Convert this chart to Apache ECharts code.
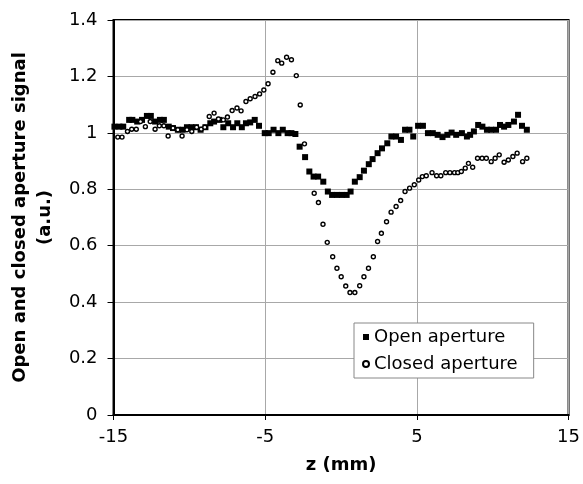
<!DOCTYPE html>
<html lang="en">

<head>
    <meta charset="UTF-8">
    <title>Z-scan open / closed aperture</title>
    <script src="https://cdn.jsdelivr.net/npm/echarts@6/dist/echarts.min.js"></script>
    <style>
        body {
            margin: 0;
            background: #fff;
        }

        #root {
            width: 583px;
            height: 484px;
        }
    </style>
</head>

<body>

    <div id="root"></div>
    <script>

        // z positions (mm) and signals
        var openZ = [-14.94, -14.61, -14.36, -13.97, -13.76, -13.44, -13.12, -12.80, -12.54, -12.26,
            -11.94, -11.68, -11.36, -11.08, -10.76, -10.44, -10.16, -9.86, -9.56, -9.26,
            -8.94, -8.62, -8.37, -8.02, -7.76, -7.44, -7.12, -6.84, -6.54, -6.27,
            -5.99, -5.69, -5.41, -5.03, -4.77, -4.45, -4.13, -3.84, -3.52, -3.27,
            -3.01, -2.73, -2.37, -2.09, -1.81, -1.51, -1.17, -0.87, -0.59, -0.27,
            0.05, 0.37, 0.63, 0.91, 1.23, 1.51, 1.83, 2.08, 2.41, 2.70,
            3.05, 3.32, 3.63, 3.95, 4.22, 4.51, 4.76, 5.08, 5.40, 5.73,
            6.05, 6.37, 6.69, 7.01, 7.29, 7.59, 7.97, 8.30, 8.51, 8.76,
            9.04, 9.32, 9.62, 9.90, 10.22, 10.48, 10.75, 11.03, 11.40, 11.67,
            11.93, 12.25];
        var openSignal = [1.022, 1.022, 1.022, 1.046, 1.046, 1.040, 1.046, 1.060, 1.060, 1.040,
            1.046, 1.046, 1.022, 1.017, 1.011, 1.011, 1.020, 1.020, 1.020, 1.011,
            1.020, 1.034, 1.040, 1.046, 1.020, 1.034, 1.020, 1.034, 1.020, 1.034,
            1.037, 1.046, 1.025, 0.999, 0.999, 1.011, 0.999, 1.011, 0.999, 0.999,
            0.996, 0.951, 0.914, 0.863, 0.845, 0.845, 0.827, 0.792, 0.780, 0.780,
            0.780, 0.780, 0.792, 0.827, 0.843, 0.866, 0.889, 0.907, 0.928, 0.945,
            0.963, 0.987, 0.987, 0.975, 1.011, 1.011, 0.987, 1.025, 1.025, 0.999,
            0.999, 0.993, 0.985, 0.993, 1.001, 0.993, 0.999, 0.987, 0.993, 1.005,
            1.028, 1.022, 1.011, 1.011, 1.011, 1.028, 1.022, 1.028, 1.040, 1.064,
            1.025, 1.011];

        var closedZ = [-15.04, -14.72, -14.44, -14.08, -13.80, -13.50, -13.22, -12.90, -12.58, -12.26,
            -11.98, -11.68, -11.40, -11.08, -10.76, -10.48, -10.16, -9.84, -9.52, -9.22,
            -8.98, -8.69, -8.37, -8.08, -7.76, -7.49, -7.18, -6.86, -6.59, -6.27,
            -5.99, -5.67, -5.37, -5.09, -4.81, -4.49, -4.17, -3.91, -3.59, -3.27,
            -2.95, -2.69, -2.41, -1.77, -1.49, -1.19, -0.91, -0.55, -0.27, 0.01,
            0.31, 0.59, 0.91, 1.23, 1.51, 1.81, 2.13, 2.41, 2.66, 3.00,
            3.30, 3.63, 3.93, 4.22, 4.52, 4.83, 5.12, 5.36, 5.62, 6.00,
            6.30, 6.58, 6.90, 7.18, 7.48, 7.70, 7.93, 8.19, 8.40, 8.68,
            9.00, 9.30, 9.58, 9.90, 10.16, 10.43, 10.75, 11.03, 11.33, 11.61,
            11.97, 12.25];
        var closedSignal = [0.985, 0.985, 0.985, 1.005, 1.013, 1.013, 1.040, 1.022, 1.040, 1.013,
            1.025, 1.025, 0.989, 1.017, 1.011, 0.989, 1.011, 1.005, 1.020, 1.013,
            1.020, 1.058, 1.070, 1.049, 1.046, 1.056, 1.079, 1.088, 1.078, 1.111,
            1.121, 1.129, 1.138, 1.152, 1.174, 1.215, 1.256, 1.247, 1.268, 1.259,
            1.203, 1.099, 0.961, 0.786, 0.753, 0.676, 0.612, 0.561, 0.520, 0.490,
            0.457, 0.434, 0.434, 0.458, 0.490, 0.520, 0.561, 0.615, 0.644, 0.685,
            0.719, 0.739, 0.760, 0.792, 0.804, 0.816, 0.833, 0.845, 0.848, 0.859,
            0.848, 0.848, 0.859, 0.859, 0.859, 0.859, 0.863, 0.875, 0.892, 0.878,
            0.910, 0.910, 0.910, 0.898, 0.910, 0.922, 0.896, 0.904, 0.916, 0.928,
            0.898, 0.910];

        var xTicks = [-15, -5, 5, 15];
        var yTicks = [0, 0.2, 0.4, 0.6, 0.8, 1, 1.2, 1.4];

        function pairs(xs, ys) {
            return xs.map(function (x, i) { return [x, ys[i]]; });
        }

        var font = 'DejaVu Sans, Verdana, sans-serif';
        var mychart = echarts.init(document.getElementById('root'));

        mychart.setOption({
            animation: false,
            textStyle: { fontFamily: font, color: '#000' },
            grid: {
                left: 104, right: 12, top: 20, bottom: 69,
                show: true, borderColor: '#000', borderWidth: 2
            },
            legend: {
                orient: 'vertical',
                left: 354, top: 323,
                padding: [3, 16, 3, 8],
                itemGap: 5,
                itemWidth: 6, itemHeight: 6,
                borderColor: '#888', borderWidth: 1,
                backgroundColor: '#fff',
                textStyle: { fontSize: 18, color: '#000', lineHeight: 22, fontFamily: font },
                data: ['Open aperture', 'Closed aperture']
            },
            xAxis: {
                type: 'value',
                min: xTicks[0], max: xTicks[xTicks.length - 1],
                interval: xTicks[1] - xTicks[0],
                name: 'z (mm)',
                nameLocation: 'middle',
                nameGap: 41,
                nameTextStyle: { fontSize: 18, fontWeight: 'bold', color: '#000' },
                axisLine: { onZero: false, lineStyle: { color: '#000', width: 2 } },
                axisTick: { show: true, length: 5, lineStyle: { color: '#000' } },
                axisLabel: { fontSize: 18, color: '#000', margin: 13 },
                splitLine: { show: true, lineStyle: { color: '#a8a8a8', width: 1 } }
            },
            yAxis: {
                type: 'value',
                min: yTicks[0], max: yTicks[yTicks.length - 1],
                interval: yTicks[1] - yTicks[0],
                name: 'Open and closed aperture signal\n(a.u.)',
                nameLocation: 'middle',
                nameRotate: 90,
                nameGap: 45,
                nameTextStyle: { fontSize: 18, fontWeight: 'bold', color: '#000', lineHeight: 25, align: 'center' },
                axisLine: { show: true, onZero: false, lineStyle: { color: '#000', width: 2 } },
                axisTick: { show: true, length: 6, lineStyle: { color: '#000' } },
                axisLabel: { fontSize: 18, color: '#000', margin: 16 },
                splitLine: { show: true, lineStyle: { color: '#a8a8a8', width: 1 } }
            },
            series: [{
                name: 'Open aperture',
                type: 'scatter',
                symbol: 'rect',
                symbolSize: 6,
                itemStyle: { color: '#000', opacity: 1 },
                data: pairs(openZ, openSignal)
            }, {
                name: 'Closed aperture',
                type: 'scatter',
                symbol: 'circle',
                symbolSize: 4,
                itemStyle: { color: '#fff', borderColor: '#000', borderWidth: 1.4, opacity: 1 },
                data: pairs(closedZ, closedSignal)
            }]
        });

    </script>

</body>

</html>
